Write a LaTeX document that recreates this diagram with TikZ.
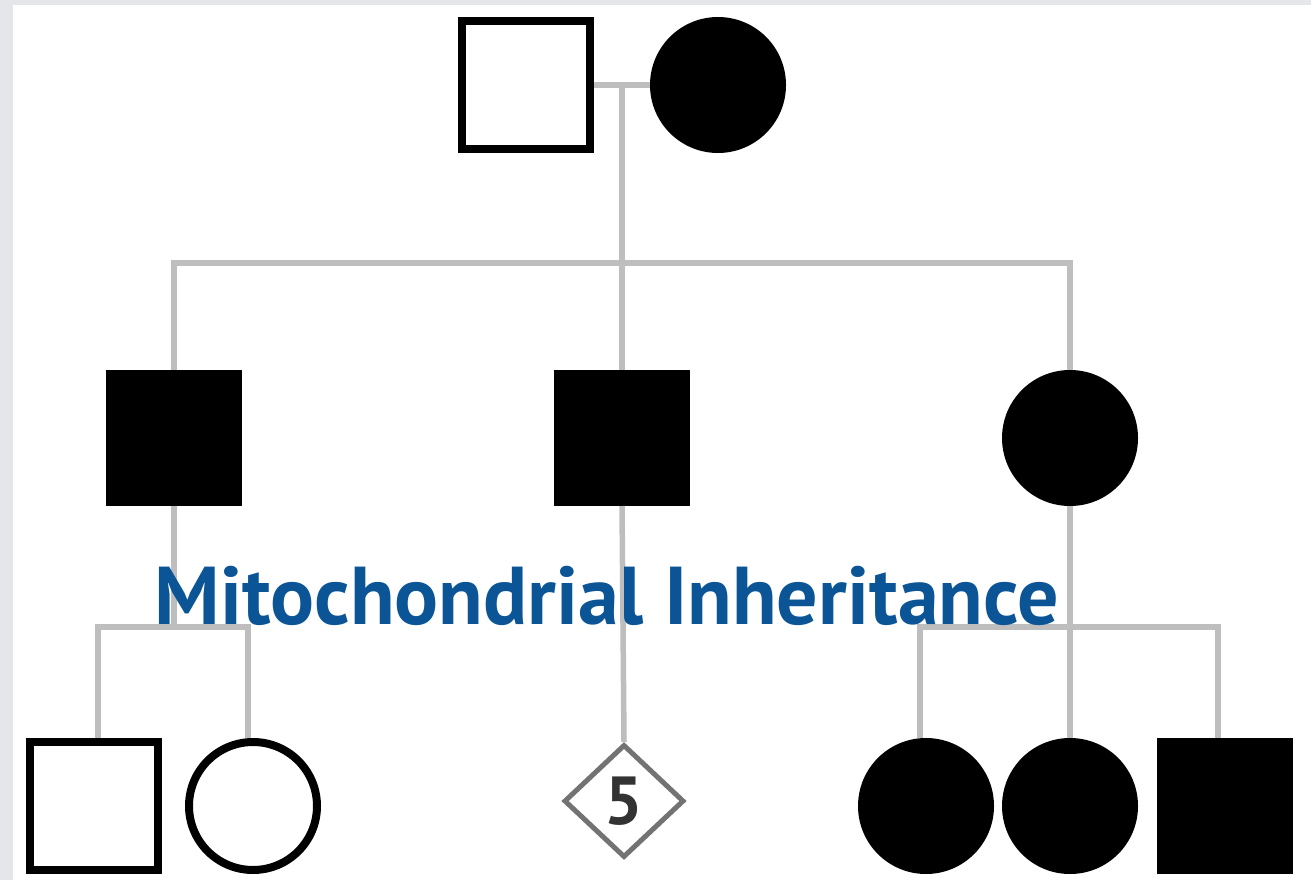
\documentclass[tikz,border=0pt]{standalone}
\usepackage{fontspec}
\setmainfont{PT Sans}
\usetikzlibrary{shapes.geometric}
\definecolor{titleblue}{RGB}{11, 85, 150}
\definecolor{linkgray}{RGB}{190, 190, 190}
\definecolor{framegray}{RGB}{228, 230, 234}

\tikzset{
  person/.style={draw=black, line width=8pt, minimum size=128pt, inner sep=0pt},
  male/.style={person, rectangle},
  female/.style={person, circle},
  affected/.style={fill=black},
  unaffected/.style={fill=white},
  link/.style={draw=linkgray, line width=5.5pt},
}

\begin{document}
\begin{tikzpicture}[x=1pt, y=-1pt]
  % frame round the sheet
  \fill[framegray] (0,0) rectangle (1311,880);
  \fill[white] (13,5) rectangle (1311,880);
  \useasboundingbox (0,0) rectangle (1311,880);

  % generation I
  \node[male, unaffected] (gpa) at (526,85) {};
  \node[female, affected] (gma) at (718,85) {};

  % generation II
  \node[male, affected] (son1) at (174,438) {};
  \node[male, affected] (son2) at (622,438) {};
  \node[female, affected] (dau) at (1070,438) {};

  % generation III
  \node[male, unaffected] (k1) at (94,806) {};
  \node[female, unaffected] (k2) at (253,806) {};
  \node[diamond, draw=black!55, line width=5pt, minimum width=120pt,
        minimum height=113pt, inner sep=0pt,
        label={[font=\bfseries\fontsize{68}{70}\selectfont, text=black!80]center:5}] (k3) at (624,801) {};
  \node[female, affected] (k4) at (926,806) {};
  \node[female, affected] (k5) at (1070,806) {};
  \node[male, affected] (k6) at (1225,806) {};

  % bars
  \coordinate (sibbar) at (0,263);
  \coordinate (kidbar) at (0,627);

  % mating line and descent
  \draw[link] (gpa.east) -- coordinate (mate) (gma.west);
  \draw[link] (mate) -- (mate |- son2.north);
  \draw[link] (son1.north) |- (dau.north |- sibbar) -- (dau.north);

  % sibships of generation III
  \draw[link] (son1.south) -- (son1.south |- kidbar);
  \draw[link] ([xshift=4pt]k1.north) |- ([xshift=-5pt]k2.north |- kidbar)
    -- ([xshift=-5pt]k2.north);
  \draw[link] (son2.south) -- (k3.north);
  \draw[link] (dau.south) -- (k5.north);
  \draw[link] ([xshift=-6pt]k4.north) |- ([xshift=-7pt]k6.north |- kidbar)
    -- ([xshift=-7pt]k6.north);

  % title
  \node[font=\bfseries\fontsize{82}{86}\selectfont, text=titleblue, anchor=base] (title)
    at (607,624) {Mitochondrial Inheritance};
\end{tikzpicture}
\end{document}
